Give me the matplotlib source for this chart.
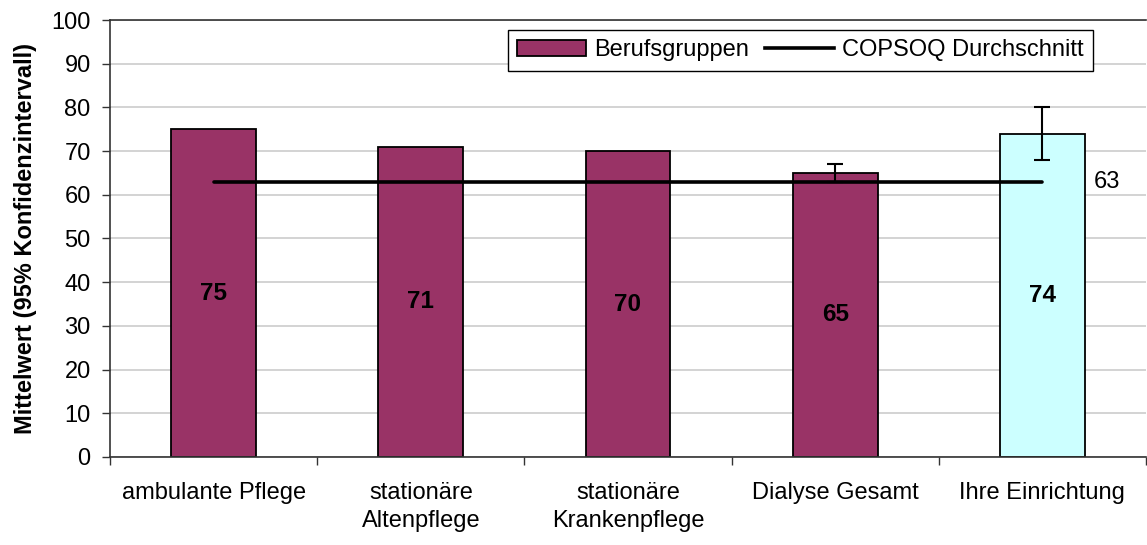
import numpy as np
import matplotlib.pyplot as plt
from matplotlib.patches import Patch
from matplotlib.lines import Line2D

plt.rcParams['font.family'] = ['Liberation Sans', 'DejaVu Sans']

# Mittelwerte je Berufsgruppe
kategorien = ['ambulante Pflege', 'stationäre\nAltenpflege', 'stationäre\nKrankenpflege',
              'Dialyse Gesamt', 'Ihre Einrichtung']
mittelwerte = [75, 71, 70, 65, 74]
# 95%-Konfidenzintervall (untere / obere Grenze), nur wo vorhanden
ki_unten = [None, None, None, 63, 68]
ki_oben = [None, None, None, 67, 80]
copsoq_mittel = 63

farben = ['#993366', '#993366', '#993366', '#993366', '#CCFFFF']
fs = 17

fig = plt.figure(figsize=(11.47, 5.45), dpi=100)
ax = fig.add_axes([0.096, 0.1615, 0.903, 0.8018])

x = np.arange(len(kategorien))
ax.bar(x, mittelwerte, width=0.41, color=farben, edgecolor='black', linewidth=1.3, zorder=2)

# Fehlerbalken
for i in range(len(x)):
    if ki_unten[i] is not None:
        lo = mittelwerte[i] - ki_unten[i]
        hi = ki_oben[i] - mittelwerte[i]
        ax.errorbar(x[i], mittelwerte[i], yerr=[[lo], [hi]], fmt='none', ecolor='black',
                    elinewidth=1.5, capsize=5.5, capthick=1.5, zorder=4)

# Werte in die Balken schreiben
for i, v in enumerate(mittelwerte):
    ax.text(x[i], v / 2, str(v), ha='center', va='center', fontsize=fs + 0.5,
            fontweight='bold', zorder=5)

# COPSOQ-Durchschnitt
ax.plot([x[0], x[-1]], [copsoq_mittel, copsoq_mittel], color='black', lw=2.6,
        solid_capstyle='round', zorder=3)
ax.text(x[-1] + 0.31, copsoq_mittel, str(copsoq_mittel), ha='center', va='center', fontsize=fs)

ax.set_ylim(0, 100)
ax.set_xlim(-0.5, len(x) - 0.5)
ax.set_yticks(np.arange(0, 101, 10))
ax.yaxis.grid(True, color='#c8c8c8', linewidth=1.1, zorder=0)
ax.set_axisbelow(True)

ax.set_xticks(x)
ax.set_xticklabels(kategorien, fontsize=fs, linespacing=1.35)
ax.set_xticks(np.arange(-0.5, len(x), 1.0), minor=True)
ax.tick_params(axis='x', which='major', length=0, pad=18)
ax.tick_params(axis='x', which='minor', length=6, width=1, color='#333333')
ax.tick_params(axis='y', length=6, width=1, color='#333333', labelsize=fs, pad=8)

ax.set_ylabel('Mittelwert (95% Konfidenzintervall)', fontsize=fs, fontweight='bold', labelpad=10)

for s in ['left', 'bottom', 'top']:
    ax.spines[s].set_color('#333333')
    ax.spines[s].set_linewidth(1.2)
ax.spines['right'].set_visible(False)

handles = [Patch(facecolor='#993366', edgecolor='black', linewidth=1.3),
           Line2D([0], [0], color='black', lw=2.6)]
leg = ax.legend(handles, ['Berufsgruppen', 'COPSOQ Durchschnitt'], ncol=2, fontsize=fs,
                loc='upper left', bbox_to_anchor=(0.384, 0.977), fancybox=False, framealpha=1,
                edgecolor='black', handlelength=2.9, handletextpad=0.35, columnspacing=0.7,
                borderpad=0.4, borderaxespad=0)
leg.get_frame().set_linewidth(1.0)

fig.savefig('out.png', dpi=100)
